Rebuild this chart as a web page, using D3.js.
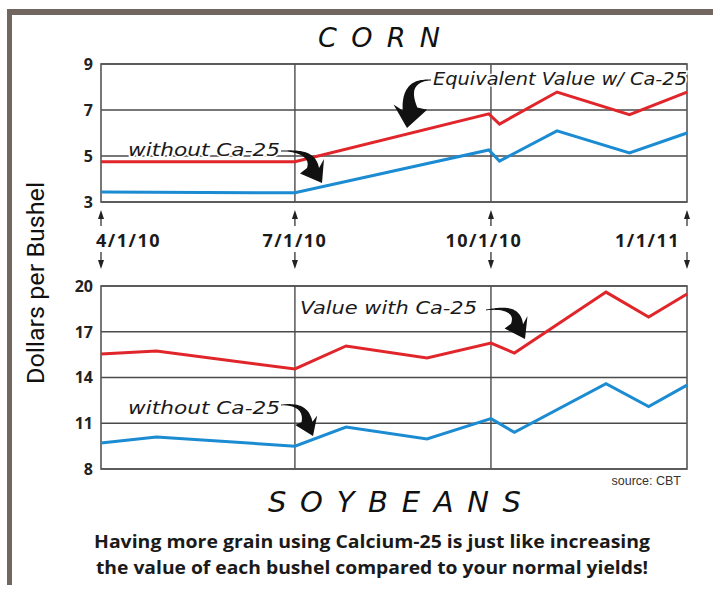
<!DOCTYPE html>
<html><head><meta charset="utf-8">
<script src="https://cdn.jsdelivr.net/npm/d3@7"></script>
<style>body{margin:0;background:#fff;}svg{display:block;}</style>
</head><body>
<svg id="c" width="713" height="590"></svg>
<script>
// ---------- DATA ----------
const cornDates   = ["2010-04-01","2010-07-01","2010-09-30","2010-10-05","2010-11-01","2010-12-05","2011-01-01"];
const cornWith    = [4.75, 4.75, 6.83, 6.39, 7.78, 6.80, 7.78];
const cornWithout = [3.43, 3.40, 5.26, 4.78, 6.09, 5.13, 6.00];
const cornTicks   = [3, 5, 7, 9];

const soyDates    = ["2010-04-01","2010-04-27","2010-07-01","2010-07-25","2010-09-01","2010-10-01","2010-10-12","2010-11-24","2010-12-14","2011-01-01"];
const soyWith     = [15.54, 15.74, 14.56, 16.07, 15.28, 16.26, 15.60, 19.60, 17.97, 19.48];
const soyWithout  = [9.70, 10.10, 9.50, 10.75, 9.97, 11.30, 10.40, 13.60, 12.10, 13.50];
const soyTicks    = [8, 11, 14, 17, 20];

const tickDates   = ["2010-04-01","2010-07-01","2010-10-01","2011-01-01"];
const tickLabels  = ["4/1/10","7/1/10","10/1/10","1/1/11"];

// ---------- SETUP ----------
const parse = d3.timeParse("%Y-%m-%d");
const svg = d3.select("#c");
const RED = "#e0262a", BLUE = "#1b8bd2", GRID = "#4a4a4a";
const x = d3.scaleTime().domain([parse("2010-04-01"), parse("2011-01-01")]).range([101, 687]);
const yCorn = d3.scaleLinear().domain([3, 9]).range([202, 64]);
const ySoy  = d3.scaleLinear().domain([8, 20]).range([469, 286]);

// frame
svg.append("rect").attr("x",7).attr("y",9).attr("width",713).attr("height",6).attr("fill","#716660");
svg.append("rect").attr("x",7).attr("y",9).attr("width",5).attr("height",576).attr("fill","#716660");

function panel(y, ticks, dates, withV, withoutV) {
  const g = svg.append("g");
  const [x0, x1] = x.range();
  // horizontal grid
  g.selectAll("line.h").data(ticks).join("line")
    .attr("x1", x0).attr("x2", x1).attr("y1", d => y(d)).attr("y2", d => y(d))
    .attr("stroke", GRID).attr("stroke-width", 1.4);
  // vertical lines at interior dates
  g.selectAll("line.v").data(tickDates.slice(1, -1)).join("line")
    .attr("x1", d => x(parse(d))).attr("x2", d => x(parse(d)))
    .attr("y1", y.range()[1]).attr("y2", y.range()[0])
    .attr("stroke", GRID).attr("stroke-width", 1.4);
  g.append("rect").attr("x", x0).attr("y", y.range()[1]).attr("width", x1 - x0)
    .attr("height", y.range()[0] - y.range()[1]).attr("fill", "none")
    .attr("stroke", "#555").attr("stroke-width", 1.6);
  // tick labels
  g.selectAll("text.t").data(ticks).join("text")
    .attr("x", 93).attr("y", d => y(d)).attr("dy", "0.36em")
    .attr("text-anchor", "end").attr("font-family", "'Open Sans', sans-serif")
    .attr("font-weight", 700).attr("font-size", 16).attr("fill", "#222").text(d => d);
  const line = vals => d3.line().x((d, i) => x(parse(dates[i]))).y(d => y(d))(vals);
  g.append("path").attr("d", line(withV)).attr("fill","none").attr("stroke",RED).attr("stroke-width",3).attr("stroke-linejoin","miter");
  g.append("path").attr("d", line(withoutV)).attr("fill","none").attr("stroke",BLUE).attr("stroke-width",3).attr("stroke-linejoin","miter");
}
panel(yCorn, cornTicks, cornDates, cornWith, cornWithout);
panel(ySoy, soyTicks, soyDates, soyWith, soyWithout);

// date labels and arrows
const anchors = ["start","middle","middle","end"], offs = [-5, 0, -7, -7];
tickDates.forEach((d, i) => {
  const xx = x(parse(d));
  svg.append("text").attr("x", xx + offs[i]).attr("y", 247).attr("text-anchor", anchors[i])
    .attr("font-family","'Open Sans', sans-serif").attr("font-weight",700).attr("font-size",18)
    .attr("letter-spacing", 1.5).attr("fill","#1a1a1a").text(tickLabels[i]);
  // up arrow
  svg.append("line").attr("x1",xx).attr("x2",xx).attr("y1",226).attr("y2",216).attr("stroke","#222").attr("stroke-width",1.2);
  svg.append("path").attr("d",`M${xx},210 L${xx-3},219 L${xx+3},219 Z`).attr("fill","#222");
  // down arrow
  svg.append("line").attr("x1",xx).attr("x2",xx).attr("y1",252).attr("y2",262).attr("stroke","#222").attr("stroke-width",1.2);
  svg.append("path").attr("d",`M${xx},269 L${xx-3},260 L${xx+3},260 Z`).attr("fill","#222");
});

// tapered curved arrows
function tapArrow(p0, c, p2, tip, headHalf, wMax) {
  const N = 30, L = [], R = [];
  for (let i = 0; i <= N; i++) {
    const t = i / N, mt = 1 - t;
    const px = mt*mt*p0[0] + 2*mt*t*c[0] + t*t*p2[0];
    const py = mt*mt*p0[1] + 2*mt*t*c[1] + t*t*p2[1];
    const dx = 2*mt*(c[0]-p0[0]) + 2*t*(p2[0]-c[0]);
    const dy = 2*mt*(c[1]-p0[1]) + 2*t*(p2[1]-c[1]);
    const len = Math.hypot(dx, dy) || 1;
    const nx = -dy/len, ny = dx/len;
    const w = (0.8 + (wMax - 0.8) * Math.pow(t, 1.4)) / 2;
    L.push([px + nx*w, py + ny*w]); R.push([px - nx*w, py - ny*w]);
  }
  const hdx = tip[0]-p2[0], hdy = tip[1]-p2[1], hl = Math.hypot(hdx, hdy);
  const hnx = -hdy/hl, hny = hdx/hl;
  const bx = p2[0] - hdx/hl*2, by = p2[1] - hdy/hl*2;
  const pts = L.concat([[bx + hnx*headHalf, by + hny*headHalf], tip, [bx - hnx*headHalf, by - hny*headHalf]], R.reverse());
  svg.append("path").attr("d", "M" + pts.map(p => p[0].toFixed(1)+","+p[1].toFixed(1)).join("L") + "Z").attr("fill","#111");
}
tapArrow([431,80],[404,80],[410,109],[407,128],17,15);
tapArrow([281,151],[313,150],[313,168],[322,183],14,12);
tapArrow([486,310],[518,305],[517,324],[525,339],13,12);
tapArrow([281,405],[306,403],[307,422],[313,436],12,11);

// annotation labels
function note(tx, ty, txt, len) {
  svg.append("text").attr("x", tx).attr("y", ty).attr("font-family","'DejaVu Sans', sans-serif")
    .attr("font-style","italic").attr("font-size",17).attr("fill","#1a1a1a")
    .attr("stroke","#fff").attr("stroke-width",3).attr("paint-order","stroke")
    .attr("textLength", len).attr("lengthAdjust","spacingAndGlyphs").text(txt);
}
note(433, 85, "Equivalent Value w/ Ca-25", 254);
note(128, 156, "without Ca-25", 152);
note(300, 314, "Value with Ca-25", 177);
note(128, 414, "without Ca-25", 152);

// titles
svg.append("text").attr("x",318).attr("y",47).attr("font-family","'DejaVu Sans', sans-serif")
  .attr("font-style","italic").attr("font-size",27).attr("fill","#111")
  .attr("textLength",122).attr("lengthAdjust","spacing").text("CORN");
svg.append("text").attr("x",268).attr("y",512).attr("font-family","'DejaVu Sans', sans-serif")
  .attr("font-style","italic").attr("font-size",29).attr("fill","#111")
  .attr("textLength",253).attr("lengthAdjust","spacing").text("SOYBEANS");

// y axis title
svg.append("text").attr("transform","translate(44,283) rotate(-90)").attr("text-anchor","middle")
  .attr("font-family","'Liberation Sans Narrow', 'Roboto', sans-serif").attr("font-size",24).attr("fill","#111")
  .attr("textLength",202).attr("lengthAdjust","spacingAndGlyphs").text("Dollars per Bushel");

// source
svg.append("text").attr("x",681).attr("y",485).attr("text-anchor","end")
  .attr("font-family","'Liberation Sans', Arial, sans-serif").attr("font-size",12.5).attr("fill","#333")
  .text("source: CBT");

// caption
const cap = ["Having more grain using Calcium-25 is just like increasing",
             "the value of each bushel compared to your normal yields!"];
svg.append("text").attr("x",94).attr("y",548).attr("font-family","'Open Sans', sans-serif")
  .attr("font-weight",700).attr("font-size",17).attr("fill","#1a1a1a")
  .attr("textLength",556).attr("lengthAdjust","spacingAndGlyphs").text(cap[0]);
svg.append("text").attr("x",96).attr("y",574).attr("font-family","'Open Sans', sans-serif")
  .attr("font-weight",700).attr("font-size",17).attr("fill","#1a1a1a")
  .attr("textLength",552).attr("lengthAdjust","spacingAndGlyphs").text(cap[1]);
</script>
</body></html>
